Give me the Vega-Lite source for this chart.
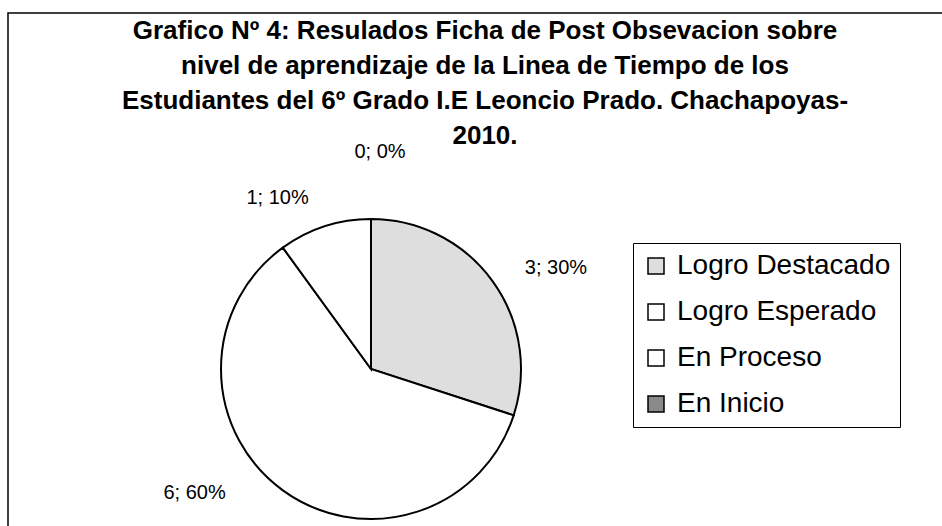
{
  "$schema": "https://vega.github.io/schema/vega-lite/v6.json",
  "autosize": {"type": "none"},
  "width": 960,
  "height": 540,
  "padding": {"left": 8, "top": 13, "right": 0, "bottom": 0},
  "background": "white",
  "config": {
    "view": {"stroke": "black", "strokeWidth": 1.5},
    "font": "Liberation Sans"
  },
  "title": {
    "text": [
      "Grafico Nº 4: Resulados Ficha de Post Obsevacion sobre",
      "nivel de aprendizaje de la Linea de Tiempo de los",
      "Estudiantes del 6º Grado I.E Leoncio Prado. Chachapoyas-",
      "2010."
    ],
    "anchor": "middle",
    "frame": "group",
    "orient": "top",
    "baseline": "top",
    "offset": -136,
    "dx": -3,
    "fontSize": 26,
    "fontWeight": "bold",
    "font": "Liberation Sans",
    "lineHeight": 35,
    "color": "black"
  },
  "data": {
    "values": [
      {"nivel": "Logro Destacado", "cantidad": 3, "orden": 1, "etiqueta": "3; 30%"},
      {"nivel": "Logro Esperado", "cantidad": 6, "orden": 2, "etiqueta": "6; 60%"},
      {"nivel": "En Proceso", "cantidad": 1, "orden": 3, "etiqueta": "1; 10%"},
      {"nivel": "En Inicio", "cantidad": 0, "orden": 4, "etiqueta": "0; 0%"}
    ]
  },
  "encoding": {
    "theta": {"field": "cantidad", "type": "quantitative", "stack": true},
    "order": {"field": "orden", "type": "quantitative"}
  },
  "layer": [
    {
      "mark": {"type": "rule", "opacity": 0},
      "encoding": {
        "theta": null,
        "order": null,
        "x": {"datum": 0, "type": "quantitative", "scale": {"domain": [0, 1]}, "axis": null}
      }
    },
    {
      "mark": {"type": "arc", "x": 363, "y": 356, "radius": 150, "stroke": "black", "strokeWidth": 2},
      "encoding": {
        "color": {
          "field": "nivel",
          "type": "nominal",
          "scale": {
            "domain": ["Logro Destacado", "Logro Esperado", "En Proceso", "En Inicio"],
            "range": ["#dedede", "#ffffff", "#ffffff", "#8a8a8a"]
          },
          "legend": {
            "title": null,
            "orient": "none",
            "legendX": 625,
            "legendY": 230,
            "strokeColor": "black",
            "padding": 9,
            "symbolType": "square",
            "symbolSize": 256,
            "symbolStrokeColor": "black",
            "symbolStrokeWidth": 1.5,
            "symbolOpacity": 1,
            "labelFontSize": 28,
            "labelFont": "Liberation Sans",
            "labelColor": "black",
            "labelOffset": 7,
            "rowPadding": 18,
            "labelLimit": 400
          }
        }
      }
    },
    {
      "mark": {"type": "text", "x": 363, "y": 356, "radius": 215, "fontSize": 20, "font": "Liberation Sans", "color": "black", "dx": 11, "dy": 25},
      "encoding": {"text": {"condition": {"test": "datum.nivel === 'Logro Destacado'", "field": "etiqueta"}, "value": ""}}
    },
    {
      "mark": {"type": "text", "x": 363, "y": 356, "radius": 215, "fontSize": 20, "font": "Liberation Sans", "color": "black", "dx": -50, "dy": -50},
      "encoding": {"text": {"condition": {"test": "datum.nivel === 'Logro Esperado'", "field": "etiqueta"}, "value": ""}}
    },
    {
      "mark": {"type": "text", "x": 363, "y": 356, "radius": 215, "fontSize": 20, "font": "Liberation Sans", "color": "black", "dx": -27, "dy": 33},
      "encoding": {"text": {"condition": {"test": "datum.nivel === 'En Proceso'", "field": "etiqueta"}, "value": ""}}
    },
    {
      "mark": {"type": "text", "x": 363, "y": 356, "radius": 215, "fontSize": 20, "font": "Liberation Sans", "color": "black", "dx": 9, "dy": -2},
      "encoding": {"text": {"condition": {"test": "datum.nivel === 'En Inicio'", "field": "etiqueta"}, "value": ""}}
    }
  ]
}
